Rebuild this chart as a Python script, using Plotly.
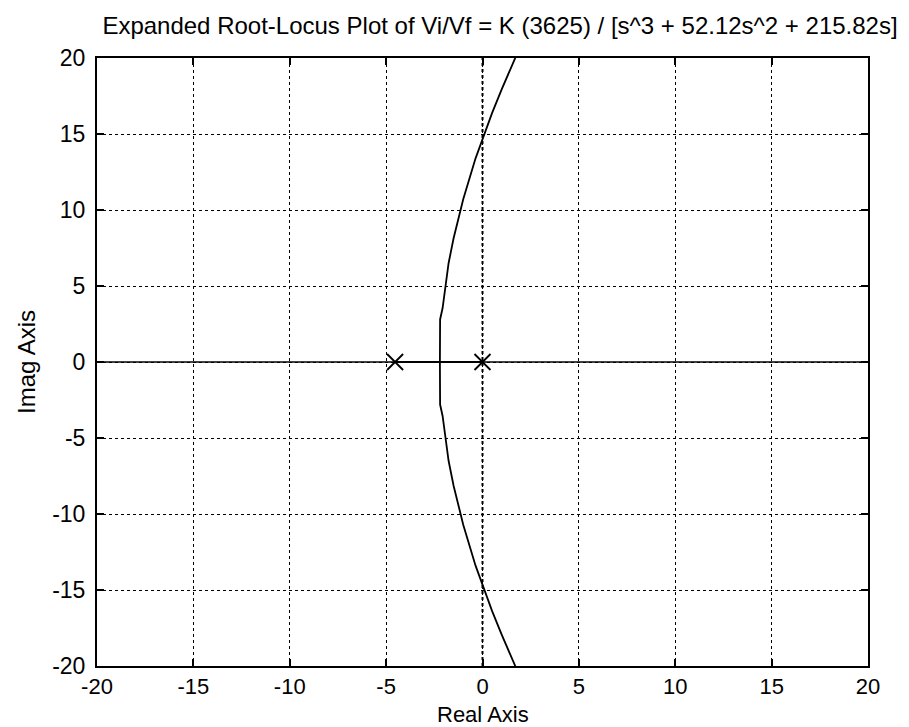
import plotly.graph_objects as go

# Open-loop poles visible in the window
pole_re = [0.0, -4.535]
pole_im = [0.0, 0.0]

# Upper complex branch of the locus
branch_re = [-2.21, -2.20, -2.07, -1.85, -1.76, -1.5, -1.0, -0.36, 0.0, 0.5, 1.0, 1.5, 1.8]
branch_im = [0.0, 2.8, 3.55, 5.77, 6.5, 8.14, 10.7, 13.4, 14.69, 16.39, 17.95, 19.47, 20.3]

# Real-axis locus segment between the two poles
real_seg_re = [-4.535, 0.0]
real_seg_im = [0.0, 0.0]

# Axis lines
axis_x = [-20, 20]
axis_y = [-20, 20]

tick_vals = [-20, -15, -10, -5, 0, 5, 10, 15, 20]
tick_text = ["-20", "-15", "-10", "-5", "0", "5", "10", "15", "20"]

FONT = "Liberation Sans, Arial, sans-serif"
fig = go.Figure()

# real axis line (solid) and imaginary axis line (dotted)
fig.add_trace(go.Scatter(x=axis_x, y=[0, 0], mode="lines",
                         line=dict(color="black", width=1.5), hoverinfo="skip"))
fig.add_trace(go.Scatter(x=[0, 0], y=axis_y, mode="lines",
                         line=dict(color="black", width=2, dash="dot"), hoverinfo="skip"))

# locus
fig.add_trace(go.Scatter(x=real_seg_re, y=real_seg_im, mode="lines",
                         line=dict(color="black", width=2)))
fig.add_trace(go.Scatter(x=branch_re, y=branch_im, mode="lines",
                         line=dict(color="black", width=1.8)))
fig.add_trace(go.Scatter(x=branch_re, y=[-v for v in branch_im], mode="lines",
                         line=dict(color="black", width=1.8)))

# poles
fig.add_trace(go.Scatter(x=pole_re, y=pole_im, mode="markers",
                         marker=dict(symbol="x-thin", size=16,
                                     line=dict(color="black", width=1.8))))

axis_common = dict(range=[-20, 20], tickvals=tick_vals, ticktext=tick_text,
                   showgrid=True, gridcolor="black", gridwidth=1, griddash="dot",
                   zeroline=False, showline=True, linecolor="black", linewidth=2,
                   mirror="ticks", ticks="inside", ticklen=7, tickcolor="black",
                   tickwidth=1.5)

fig.update_layout(
    width=909, height=727,
    margin=dict(l=89, r=49, t=50, b=69),
    paper_bgcolor="white", plot_bgcolor="white",
    showlegend=False,
    title=dict(text="Expanded Root-Locus Plot of Vi/Vf = K (3625) / [s^3 + 52.12s^2 + 215.82s]",
               x=492 / 909, xanchor="center", xref="container",
               y=1 - 18 / 727, yanchor="middle", yref="container",
               font=dict(family=FONT, size=24, color="black")),
    xaxis=dict(**axis_common, ticklabelstandoff=0,
               tickfont=dict(family=FONT, size=22, color="black")),
    yaxis=dict(**axis_common, ticklabelstandoff=5,
               tickfont=dict(family=FONT, size=23, color="black")),
    annotations=[
        dict(text="Real Axis", xref="paper", yref="paper",
             x=0.5, y=(658 - 706) / 608, xanchor="center", yanchor="middle",
             showarrow=False, font=dict(family=FONT, size=22, color="black")),
        dict(text="Imag Axis", xref="paper", yref="paper",
             x=(18 - 89) / 771, y=0.5, xanchor="center", yanchor="middle",
             textangle=-90, showarrow=False,
             font=dict(family=FONT, size=24, color="black")),
    ],
)

fig.write_html("out.html")
